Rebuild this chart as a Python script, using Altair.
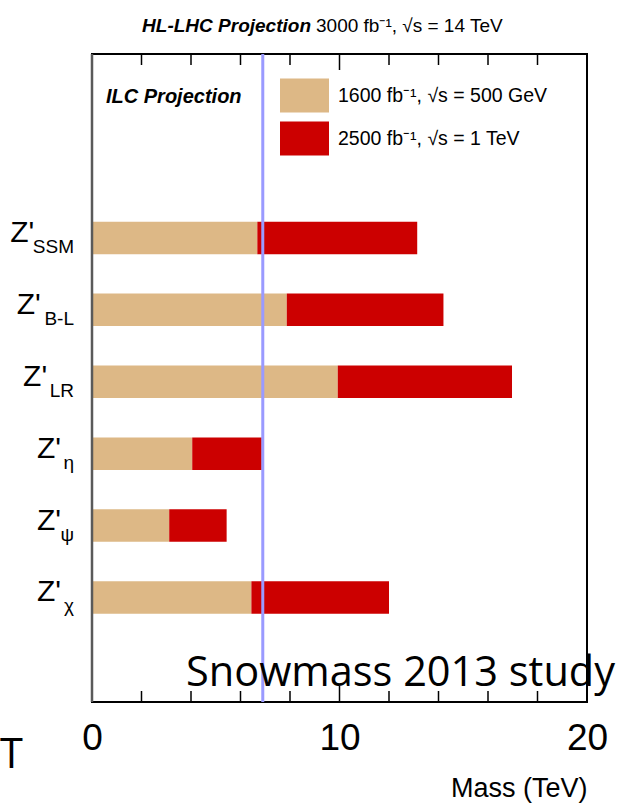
import altair as alt
import pandas as pd

# Z' models, top to bottom, and their ILC mass reach (TeV)
models = ["SSM", "B-L", "LR", "η", "ψ", "χ"]
reach_500gev = [6.68, 7.87, 9.93, 4.05, 3.12, 6.44]
reach_1tev = [13.14, 14.2, 16.97, 6.86, 5.44, 12.0]
series = ["1600 fb⁻¹, √s = 500 GeV", "2500 fb⁻¹, √s = 1 TeV"]
series_colors = ["#DDB886", "#CC0000"]

# HL-LHC reference reach (TeV)
hl_lhc_reach = [6.9]

# axis ticks and labels (TeV)
frame_ticks = [2, 4, 6, 8, 10, 12, 14, 16, 18]
tick_labels = [0, 10, 20]

SANS = "Liberation Sans, Arial, sans-serif"
SLIDE = "Open Sans, Noto Sans, sans-serif"

W, H = 495, 648

# vertical rows: two rows kept free for the legend, one empty row at the bottom
rows = ["legend-1", "legend-2"] + models + ["footer"]

bars = pd.DataFrame({
    "model": models * 2,
    "series": [series[0]] * len(models) + [series[1]] * len(models),
    "start": [0.0] * len(models) + reach_500gev,
    "end": reach_500gev + reach_1tev,
})

xscale = alt.Scale(domain=[0, 20], nice=False, zero=False)
yscale = alt.Scale(domain=rows, paddingInner=0.548, paddingOuter=0.28, align=0.593)

bar_layer = alt.Chart(bars).mark_bar(strokeWidth=0).encode(
    x=alt.X("start:Q", scale=xscale, axis=alt.Axis(
        values=tick_labels, format="d", grid=False, ticks=False, tickSize=0, domain=False,
        labelFont=SANS, labelFontSize=37, labelColor="black", labelPadding=18,
        labelFlush=False,
        title="Mass (TeV)", titleFont=SANS, titleFontSize=27, titleFontWeight="normal",
        titleColor="black", titleAlign="right", titleAnchor="end", titleBaseline="alphabetic",
        titleX=W, titleY=94,
    )),
    x2="end:Q",
    y=alt.Y("model:N", scale=yscale, axis=None),
    color=alt.Color("series:N", scale=alt.Scale(domain=series, range=series_colors),
                    legend=alt.Legend(
                        title=None, orient="none", legendX=188, legendY=17,
                        symbolType="M-1,-0.694H1V0.694H-1Z", symbolSize=2401,
                        symbolStrokeWidth=0, symbolOpacity=1,
                        labelFont=SANS, labelFontSize=19.5, labelColor="black",
                        labelOffset=9, rowPadding=1, labelLimit=400,
                    )),
)

# HL-LHC vertical line
hl_layer = alt.Chart(pd.DataFrame({"m": hl_lhc_reach})).mark_rule(
    color="#9A9AFF", strokeWidth=3
).encode(x=alt.X("m:Q", scale=xscale), y=alt.value(0), y2=alt.value(H))

# inward ticks on the bottom and top edges of the frame (longer at 10 TeV)
ticks_df = pd.DataFrame({"v": frame_ticks})
tick_len = "datum.v == 10 ? 16 : 11"
bottom_ticks = alt.Chart(ticks_df).transform_calculate(
    ya=str(H), yb=f"{H} - ({tick_len})"
).mark_rule(color="black", strokeWidth=1.5).encode(
    x=alt.X("v:Q", scale=xscale),
    y=alt.Y("ya:Q", scale=None), y2="yb:Q",
)
top_ticks = alt.Chart(ticks_df).transform_calculate(
    ya="0", yb=tick_len
).mark_rule(color="black", strokeWidth=1.5).encode(
    x=alt.X("v:Q", scale=xscale),
    y=alt.Y("ya:Q", scale=None), y2="yb:Q",
)

# grey left edge of the frame
left_edge = alt.Chart(pd.DataFrame({"edge": [0]})).mark_rule(
    color="#5A5A5A", strokeWidth=2.5
).encode(x=alt.value(0), y=alt.value(0), y2=alt.value(H))

# Z' row labels with subscripts; "Z'" sits just left of its subscript
SUB_SIZE = 19
labels = pd.DataFrame({"model": models, "sub": models})
sub_width = (f"length(datum.sub) == 1 ? 12 : "
             f"{SUB_SIZE}*(0.68*length(replace(datum.sub, '-', '')) "
             f"+ 0.333*(length(datum.sub) - length(replace(datum.sub, '-', ''))))")
z_layer = alt.Chart(labels).transform_calculate(
    zx=f"-19 - ({sub_width})"
).mark_text(align="right", baseline="alphabetic", dy=4, font=SANS, fontSize=30,
            color="black").encode(
    x=alt.X("zx:Q", scale=None),
    y=alt.Y("model:N", scale=yscale, axis=None),
    text=alt.value("Z'"),
)
sub_layer = alt.Chart(labels).mark_text(
    align="right", baseline="alphabetic", dy=15, font=SANS, fontSize=SUB_SIZE, color="black"
).encode(
    x=alt.value(-18),
    y=alt.Y("model:N", scale=yscale, axis=None),
    text="sub:N",
)


def note(text, x, y, align="left", **style):
    return alt.Chart(pd.DataFrame({"t": [text]})).mark_text(
        align=align, baseline="alphabetic", color="black", **style
    ).encode(x=alt.value(x), y=alt.value(y), text="t:N")


title_bold = note("HL-LHC Projection", 219, -22, align="right", font=SANS,
                  fontSize=19, fontWeight="bold", fontStyle="italic")
title_rest = note("3000 fb⁻¹, √s = 14 TeV", 224, -22, font=SANS, fontSize=19)
ilc_note = note("ILC Projection", 14, 49, font=SANS, fontSize=20,
                fontWeight="bold", fontStyle="italic")
snowmass = note("Snowmass 2013 study", 94, 632, font=SLIDE, fontSize=41.5)
slide_t = note("T", -92, 714, font=SLIDE, fontSize=41.5)

chart = alt.layer(
    bar_layer, hl_layer, bottom_ticks, top_ticks, left_edge, z_layer, sub_layer,
    title_bold, title_rest, ilc_note, snowmass, slide_t,
).properties(
    width=W, height=H,
    autosize=alt.AutoSizeParams(type="none"),
    padding={"left": 92, "top": 54, "right": 47, "bottom": 106},
).configure_view(stroke="black", strokeWidth=2)

chart.save("out.html", embed_options={"renderer": "svg", "actions": False})
